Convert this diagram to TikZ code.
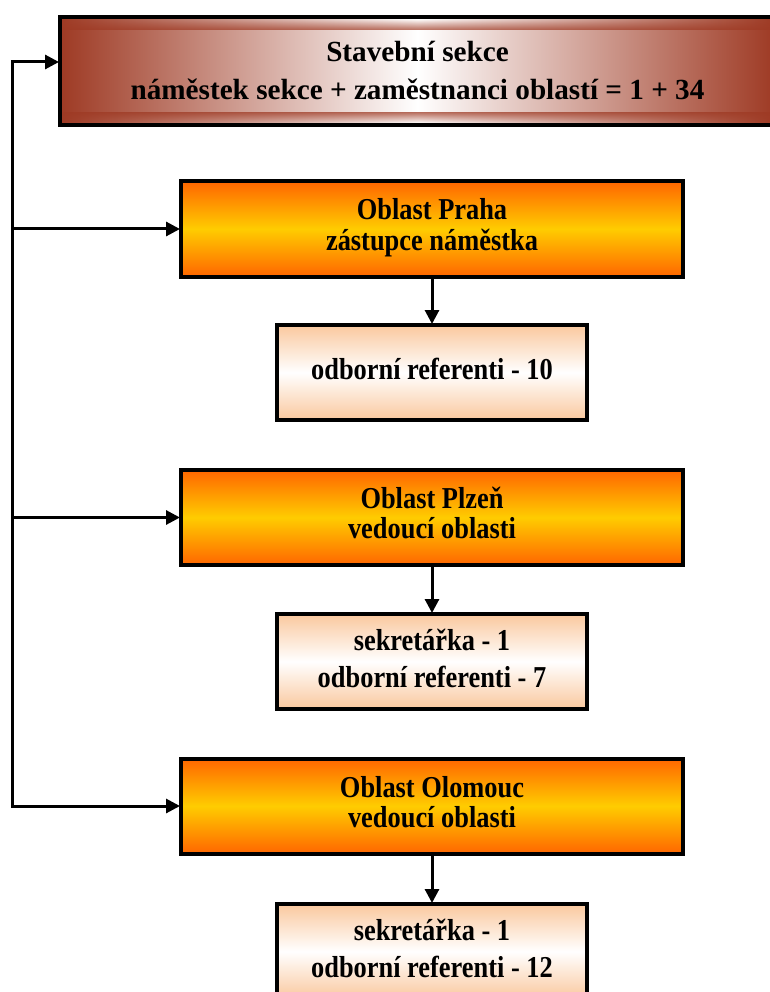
\documentclass[tikz,border=0pt]{standalone}
\usepackage{fontspec}
\setmainfont{Liberation Serif}
\usetikzlibrary{arrows.meta,fadings}

\definecolor{sekcebrown}{RGB}{158,58,36}
\definecolor{oblastorange}{RGB}{255,102,0}
\definecolor{oblastyellow}{RGB}{255,204,0}
\definecolor{staffpeach}{RGB}{250,200,158}

% #1 vertical stretch, #2 font size, #3 baseline skip, #4 lines
\newcommand{\stretchedlines}[4]{%
  \scalebox{1}[#1]{\fontsize{#2}{#3}\selectfont\bfseries
    \begin{tabular}{@{}c@{}}#4\end{tabular}}}

\begin{document}
\begin{tikzpicture}[
    x=1pt, y=-1pt,
    boxline/.style={draw=black, line width=4pt, inner sep=0pt},
    sectionbox/.style={boxline, minimum width=715pt, minimum height=108pt,
      shading=axis, left color=sekcebrown, right color=sekcebrown, middle color=white},
    areabox/.style={boxline, minimum width=502pt, minimum height=95pt,
      top color=oblastorange, bottom color=oblastorange, middle color=oblastyellow},
    staffbox/.style={boxline, minimum width=310pt, minimum height=95pt,
      top color=staffpeach, bottom color=staffpeach, middle color=white},
    link/.style={line width=3pt},
    arrowlink/.style={link, -{Triangle[length=14pt,width=14pt]}, shorten >=-1pt}
  ]
  \useasboundingbox (0,0) rectangle (770,992);

  % section header
  \node[sectionbox] (sekce) at (417.5,71) {};
  \fill[sekcebrown, path fading=north, opacity=0.75] (62,19) rectangle (776,30);
  \fill[sekcebrown, path fading=south, opacity=0.75] (62,112) rectangle (776,123);
  \node at (sekce.center) [yshift=-2pt]
    {\stretchedlines{1}{29.2}{38}{Stavební sekce\\náměstek sekce + zaměstnanci oblastí = 1 + 34}};

  % regional offices
  \node[areabox] (praha) at (432,229)
    {\stretchedlines{1.15}{26.4}{26}{Oblast Praha\\zástupce náměstka}};
  \node[staffbox] (prahastaff) at (432,372.5)
    {\stretchedlines{1.15}{26.4}{32}{odborní referenti - 10}};

  \node[areabox] (plzen) at (432,517.5)
    {\stretchedlines{1.15}{26.4}{26}{Oblast Plzeň\\vedoucí oblasti}};
  \node[staffbox] (plzenstaff) at (432,661.5)
    {\stretchedlines{1.15}{26.4}{32}{sekretářka - 1\\odborní referenti - 7}};

  \node[areabox] (olomouc) at (432,806)
    {\stretchedlines{1.15}{26.4}{26}{Oblast Olomouc\\vedoucí oblasti}};
  \node[staffbox] (olomoucstaff) at (432,951.5)
    {\stretchedlines{1.15}{26.4}{32}{sekretářka - 1\\odborní referenti - 12}};

  % left trunk
  \coordinate (trunktop) at (12,62);
  \draw[link, line cap=rect] (olomouc.west -| trunktop) -- (trunktop);
  \draw[arrowlink] (trunktop) -- (trunktop -| sekce.west);
  \draw[arrowlink] (praha.west -| trunktop) -- (praha.west);
  \draw[arrowlink] (plzen.west -| trunktop) -- (plzen.west);
  \draw[arrowlink] (olomouc.west -| trunktop) -- (olomouc.west);

  % office to staff
  \draw[arrowlink] (praha.south) -- (prahastaff.north);
  \draw[arrowlink] (plzen.south) -- (plzenstaff.north);
  \draw[arrowlink] (olomouc.south) -- (olomoucstaff.north);
\end{tikzpicture}
\end{document}
